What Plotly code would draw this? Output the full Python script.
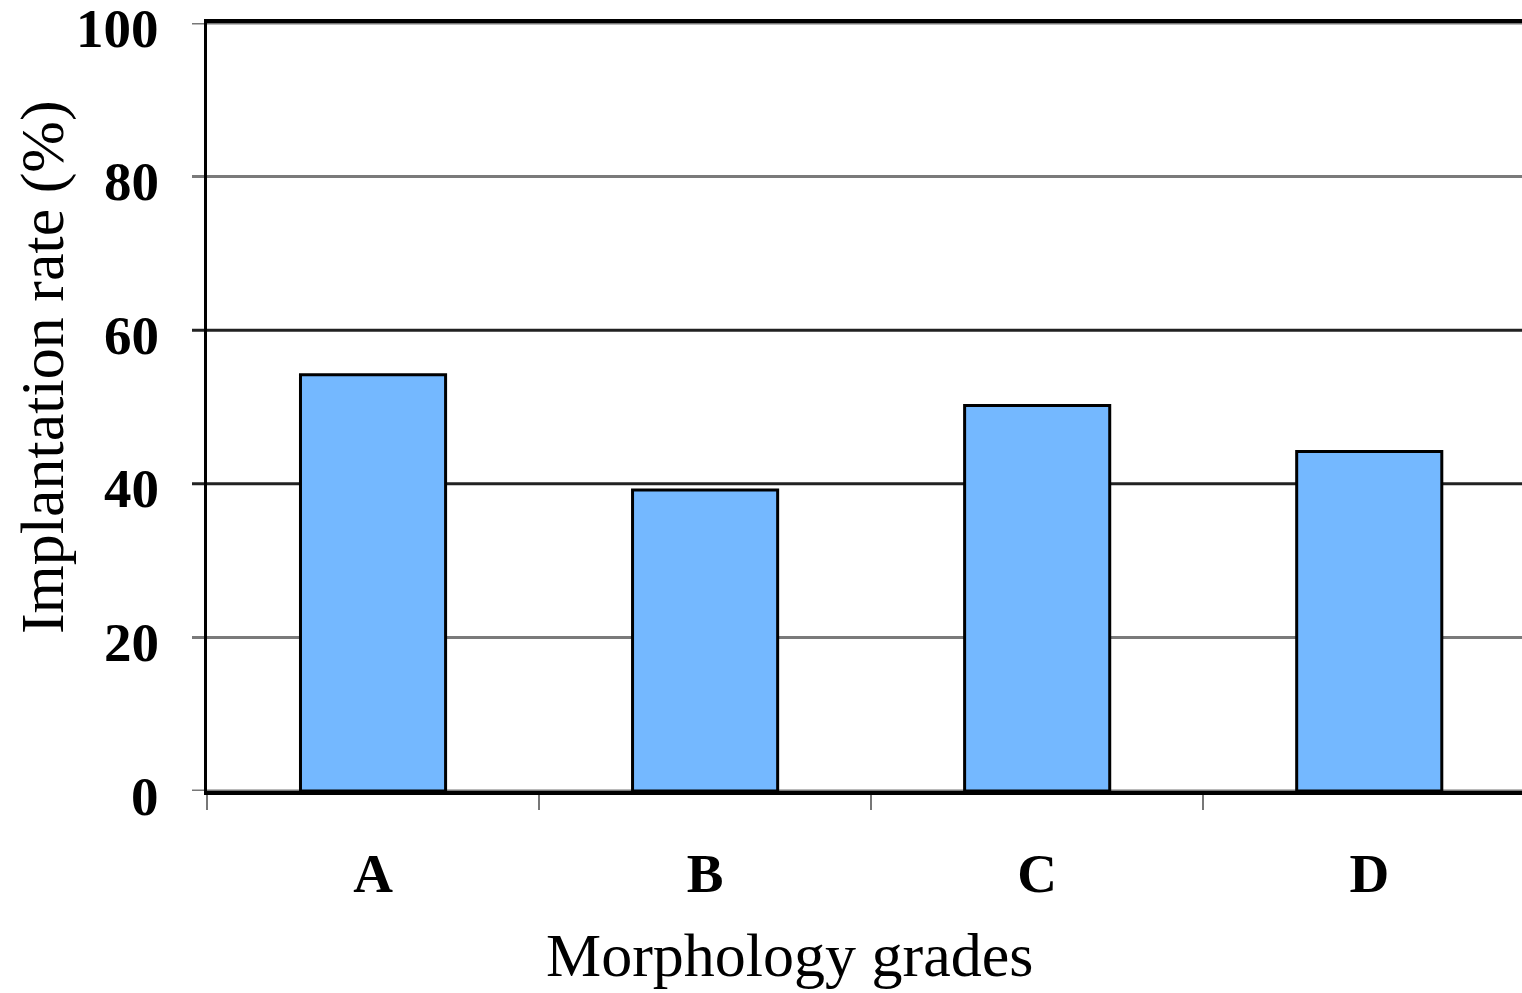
import plotly.graph_objects as go

grades = ["A", "B", "C", "D"]
implantation_rate = [54.2, 39.2, 50.2, 44.2]
y_ticks = [0, 20, 40, 60, 80, 100]
grid_colors = ["#777777", "#7a7a7a", "#222222", "#222222", "#7a7a7a", "#777777"]

fig = go.Figure()
fig.add_trace(go.Bar(
    x=grades,
    y=implantation_rate,
    width=0.437,
    marker=dict(color="#74B8FF", line=dict(color="#000000", width=3)),
))

# Horizontal grid lines (with their left tick stubs), each with its own shade
tick_stub = -15 / 1315
for val, col in zip(y_ticks, grid_colors):
    fig.add_shape(
        type="line", xref="paper", yref="y",
        x0=tick_stub, x1=1, y0=val, y1=val,
        line=dict(color=col, width=3), layer="below",
    )

tick_font = dict(family="Liberation Serif", size=55, color="#000000", weight="bold")
title_font = dict(family="Liberation Serif", size=62, color="#000000")

# Y tick labels, sitting slightly below their grid lines
for val in y_ticks:
    fig.add_annotation(
        text=str(val), xref="paper", yref="y",
        x=-46 / 1315, y=val, xanchor="right", yanchor="middle",
        yshift=-5, showarrow=False, font=tick_font,
    )

fig.add_annotation(
    text="Morphology grades", xref="paper", yref="paper",
    x=0.4433, y=-0.2135, xanchor="center", yanchor="middle",
    showarrow=False, font=title_font,
)
fig.add_annotation(
    text="Implantation rate (%)", xref="paper", yref="paper",
    x=-0.1255, y=0.552, xanchor="center", yanchor="middle",
    textangle=-90, showarrow=False, font=title_font,
)

fig.update_layout(
    width=1522,
    height=993,
    margin=dict(l=207, r=0, t=23, b=202),
    paper_bgcolor="#ffffff",
    plot_bgcolor="#ffffff",
    showlegend=False,
    xaxis=dict(
        range=[-0.5, 3.46],
        tickson="boundaries",
        ticks="outside",
        ticklen=15,
        tickwidth=2,
        tickcolor="#777777",
        showline=True,
        linecolor="#000000",
        linewidth=4,
        mirror=True,
        showgrid=False,
        tickfont=tick_font,
        ticklabelstandoff=31,
        automargin=False,
    ),
    yaxis=dict(
        range=[0, 100],
        tickvals=y_ticks,
        showticklabels=False,
        ticks="",
        showline=True,
        linecolor="#000000",
        linewidth=3,
        showgrid=False,
        zeroline=False,
        automargin=False,
    ),
)

fig.write_html("out.html")
